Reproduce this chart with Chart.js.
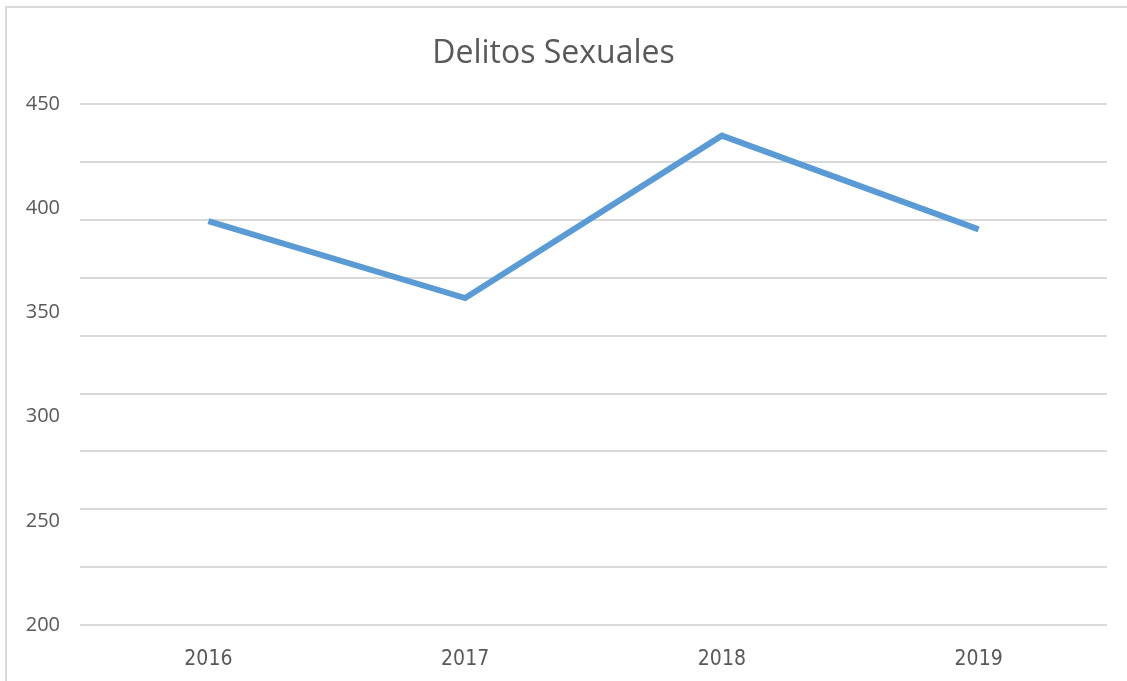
<!DOCTYPE html>
<html>
<head>
<meta charset="utf-8">
<script src="https://cdn.jsdelivr.net/npm/chart.js@4.4.1/dist/chart.umd.min.js"></script>
<style>
  body { margin: 0; background: #fff; }
  #wrap { position: relative; width: 1127px; height: 681px; }
  .borde-izq { position: absolute; left: 5px; top: 6px; width: 2px; height: 675px; background: #d9d9d9; }
  .borde-sup { position: absolute; left: 5px; top: 6px; width: 1122px; height: 2px; background: #d9d9d9; }
</style>
</head>
<body>
<div id="wrap">
  <canvas id="grafico" width="1127" height="681"></canvas>
  <div class="borde-izq"></div>
  <div class="borde-sup"></div>
</div>
<script>
const anios = ["2016", "2017", "2018", "2019"];
const delitos = [394, 357, 435, 390];
const ejeMin = 200;
const ejeMax = 450;
const pasoEtiquetas = 50;
const divisionesGrilla = 9;

const gris = "#595959";

const ctx = document.getElementById("grafico").getContext("2d");

new Chart(ctx, {
  type: "line",
  data: {
    labels: anios,
    datasets: [{
      label: "Delitos Sexuales",
      data: delitos,
      borderColor: "#5b9bd5",
      borderWidth: 6,
      pointRadius: 0,
      tension: 0,
      borderJoinStyle: "miter",
      yAxisID: "y"
    }]
  },
  options: {
    responsive: false,
    animation: false,
    layout: { padding: { top: 14, right: 20, bottom: 0, left: 0 } },
    plugins: {
      legend: { display: false },
      tooltip: { enabled: false },
      title: {
        display: true,
        text: "Delitos Sexuales",
        color: gris,
        font: { family: "'Open Sans', sans-serif", size: 32, weight: "normal" },
        padding: { top: 21, bottom: 31 }
      }
    },
    scales: {
      x: {
        offset: true,
        grid: { display: false, drawTicks: false },
        border: { display: false },
        ticks: {
          color: gris,
          padding: 22,
          font: { family: "'Liberation Sans Narrow', 'DejaVu Sans Condensed', sans-serif", size: 21 }
        },
        afterFit: scale => { scale.height = 56; }
      },
      // eje solo para las lineas de la grilla
      y: {
        position: "left",
        min: ejeMin,
        max: ejeMax,
        grid: { color: "#d9d9d9", lineWidth: 2, drawTicks: false },
        border: { display: false },
        ticks: { display: false },
        afterBuildTicks: scale => {
          const paso = (ejeMax - ejeMin) / divisionesGrilla;
          scale.ticks = [];
          for (let i = 0; i <= divisionesGrilla; i++) scale.ticks.push({ value: ejeMin + i * paso });
        },
        afterFit: scale => { scale.width = 0; }
      },
      // eje solo para las etiquetas
      yEtiquetas: {
        position: "left",
        min: ejeMin,
        max: ejeMax,
        grid: { display: false, drawTicks: false },
        border: { display: false },
        ticks: {
          stepSize: pasoEtiquetas,
          color: gris,
          padding: 20,
          font: { family: "'Open Sans', sans-serif", size: 20 }
        },
        afterFit: scale => { scale.width = 80; }
      }
    }
  }
});
</script>
</body>
</html>
